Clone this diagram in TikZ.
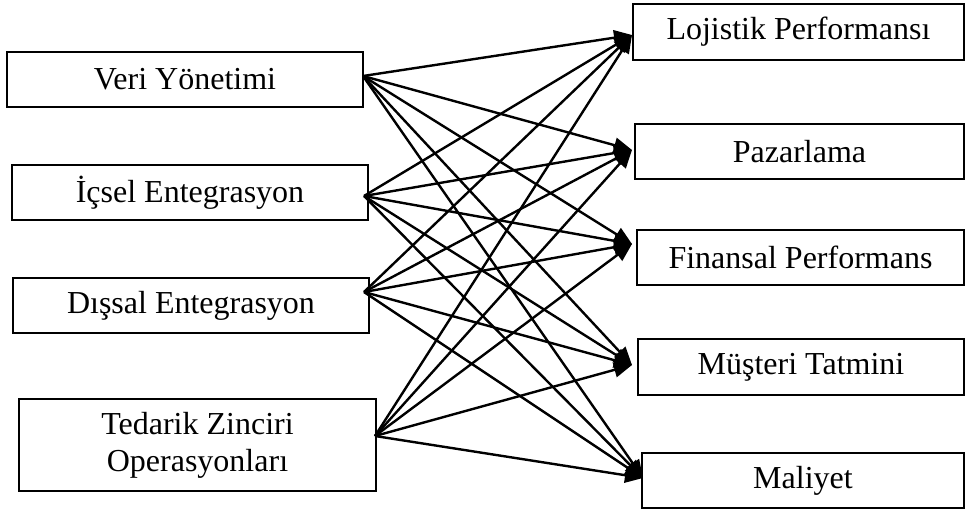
\documentclass[tikz,border=0pt]{standalone}
\usepackage{fontspec}
\setmainfont{Liberation Serif}
\usetikzlibrary{arrows.meta}
\begin{document}
\begin{tikzpicture}[x=1pt,y=-1pt,
  box/.style={draw,line width=2pt,inner sep=0pt,align=center,
    font=\fontsize{32}{37}\selectfont},
  link/.style={line width=2.4pt,-{Triangle[length=18pt,width=15pt]}}]
\useasboundingbox (0,0) rectangle (967,514);

% factors on the left
\node[box,minimum width=356pt,minimum height=55pt] (vy) at (185,79.5) {Veri Yönetimi};
\node[box,minimum width=356pt,minimum height=55pt] (ic) at (190,192.5) {İçsel Entegrasyon};
\node[box,minimum width=356pt,minimum height=55pt] (ds) at (191,305.5) {Dışsal Entegrasyon};
\node[box,minimum width=357pt,minimum height=92pt] (tz) at (197.5,445) {Tedarik Zinciri\\Operasyonları};

% outcomes on the right
\node[box,minimum width=331pt,minimum height=56pt] (lp) at (798.5,32) {Lojistik Performansı};
\node[box,minimum width=329pt,minimum height=55pt] (pz) at (799.5,151.5) {Pazarlama};
\node[box,minimum width=327pt,minimum height=55pt] (fp) at (800.5,257.5) {Finansal Performans};
\node[box,minimum width=326pt,minimum height=56pt] (mt) at (801,367) {Müşteri Tatmini};
\node[box,minimum width=322pt,minimum height=55pt] (ml) at (803,480.5) {Maliyet};

% where the connectors leave and arrive
\coordinate (s1) at ([shift={(-1,-3.5)}]vy.east);
\coordinate (s2) at ([shift={(-5,3.5)}]ic.east);
\coordinate (s3) at ([shift={(-6,-13.5)}]ds.east);
\coordinate (s4) at ([shift={(-2,-9)}]tz.east);
\coordinate (e1) at ([shift={(0,3)}]lp.west);
\coordinate (e2) at ([shift={(-2,-1.5)}]pz.west);
\coordinate (e3) at ([shift={(-4,-13.5)}]fp.west);
\coordinate (e4) at ([shift={(-5,-2)}]mt.west);
\coordinate (e5) at ([shift={(2,-2.5)}]ml.west);

% every factor points to every outcome
\foreach \s in {s1,s2,s3,s4}
  \foreach \e in {e1,e2,e3,e4,e5}
    \draw[link] (\s) -- (\e);
\end{tikzpicture}
\end{document}
